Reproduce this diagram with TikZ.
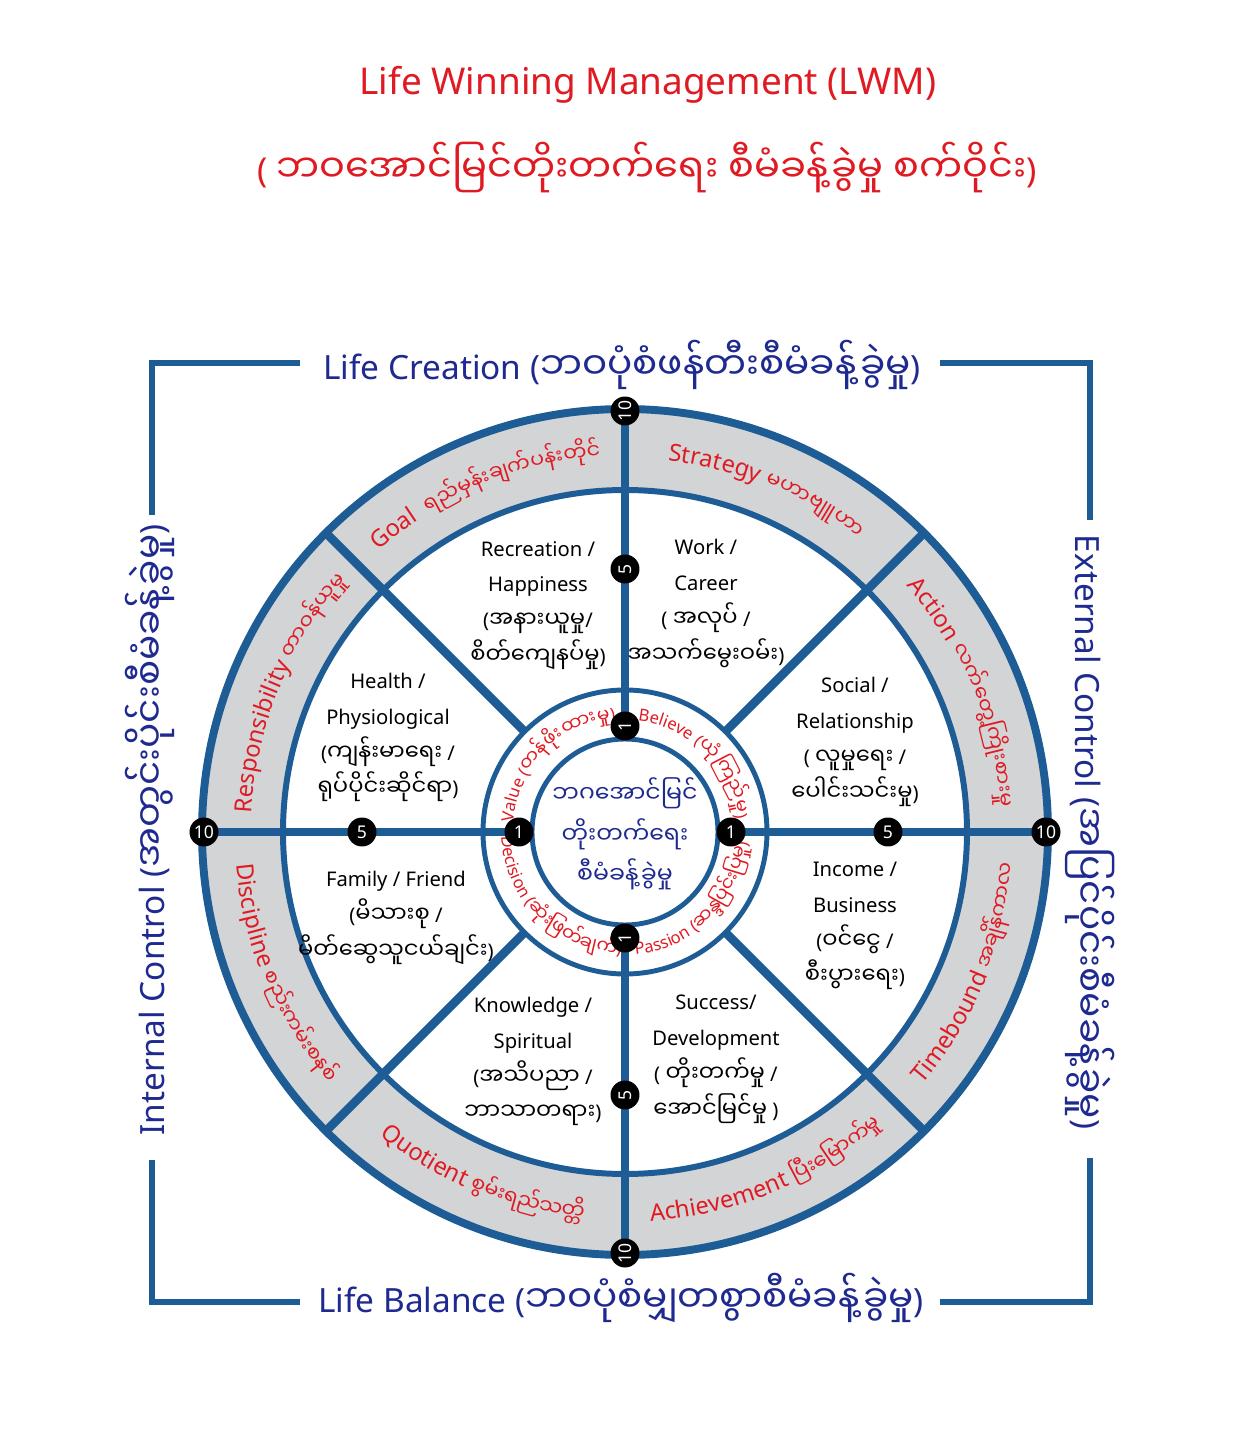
\documentclass[tikz,border=0pt]{standalone}
\usepackage{fontspec}
\setmainfont{Noto Sans}
\newfontfamily\mm[Script=Myanmar,Scale=1.12]{Noto Sans Myanmar UI}
\definecolor{lwblue}{HTML}{1E5C96}
\definecolor{ringgray}{HTML}{D3D4D6}
\definecolor{lwred}{HTML}{E01A22}
\definecolor{lwnavy}{HTML}{1F2A90}
\newcommand\my[1]{{\mm #1}}
\newcommand\segfont{\fontsize{11.5}{20.4}\selectfont\lineskiplimit=-30pt\relax}
\newcommand\corefont{\fontsize{12}{23}\selectfont\lineskiplimit=-30pt\relax}
\newcommand\ringfont{\fontsize{13.5}{14}\selectfont}
\newcommand\rb{\mm\fontsize{10.5}{12}\selectfont}
\newcommand\innerfont{\fontsize{9.5}{10}\selectfont}
\newcommand\labfont{\fontsize{19}{22}\selectfont}
\newdimen\arcW
\newcount\arcN
% measuring (done outside the picture)
\newcommand\arcmeasure[3]{% #1 name, #2 font, #3 chunks
  \global\arcW=0pt \global\arcN=0
  \def\ch##1{\setbox0\hbox{#2##1}%
    \global\advance\arcN by 1
    \expandafter\xdef\csname arcc@#1@\the\arcN\endcsname{\the\arcW}%
    \global\advance\arcW by \wd0
    \expandafter\xdef\csname arce@#1@\the\arcN\endcsname{\the\arcW}}%
  #3%
  \expandafter\xdef\csname arcw@#1\endcsname{\the\arcW}}
% placing: #1 name, #2 radius, #3 centre angle, #4 dir (1 upper, -1 lower), #5 font, #6 chunks
\newcommand\arcplace[6]{%
  \global\arcN=0
  \pgfmathsetmacro\arcK{57.29578/(#2*0.5690551)}%
  \edef\arcWv{\csname arcw@#1\endcsname}%
  \pgfmathsetmacro\arcT{\arcK*\arcWv}%
  \def\ch##1{%
    \global\advance\arcN by 1
    \edef\arcS{\csname arcc@#1@\the\arcN\endcsname}%
    \edef\arcE{\csname arce@#1@\the\arcN\endcsname}%
    \pgfmathsetmacro\arcA{#3 + #4*(\arcT/2) - #4*\arcK*0.5*(\arcS + \arcE)}%
    \pgfmathsetmacro\arcR{\arcA - #4*90}%
    \node[anchor=base, inner sep=0pt, outer sep=0pt, rotate=\arcR, text=lwred, font=#5] at (\arcA:#2) {##1};}%
  #6}
\newcommand\Lgoal{\ch{G}\ch{o}\ch{a}\ch{l}\ch{\ }\ch{\ }\ch{\rb ရည်}\ch{\rb မှန်း}\ch{\rb ချက်}\ch{\rb ပန်း}\ch{\rb တိုင်}}
\newcommand\Lstrat{\ch{S}\ch{t}\ch{r}\ch{a}\ch{t}\ch{e}\ch{g}\ch{y}\ch{\ }\ch{\rb မ}\ch{\rb ဟာ}\ch{\rb ဗျူ}\ch{\rb ဟာ}}
\newcommand\Laction{\ch{A}\ch{c}\ch{t}\ch{i}\ch{o}\ch{n}\ch{\ }\ch{\rb လက်}\ch{\rb တွေ့}\ch{\rb ကြိုး}\ch{\rb စား}\ch{\rb မှု}}
\newcommand\Lresp{\ch{R}\ch{e}\ch{s}\ch{p}\ch{o}\ch{n}\ch{s}\ch{i}\ch{b}\ch{i}\ch{l}\ch{i}\ch{t}\ch{y}\ch{\ }\ch{\rb တာ}\ch{\rb ဝန်}\ch{\rb ယူ}\ch{\rb မှု}}
\newcommand\Ldisc{\ch{D}\ch{i}\ch{s}\ch{c}\ch{i}\ch{p}\ch{l}\ch{i}\ch{n}\ch{e}\ch{\ }\ch{\rb စည်း}\ch{\rb ကမ်း}\ch{\rb စ}\ch{\rb နစ်}}
\newcommand\Lquot{\ch{Q}\ch{u}\ch{o}\ch{t}\ch{i}\ch{e}\ch{n}\ch{t}\ch{\ }\ch{\rb စွမ်း}\ch{\rb ရည်}\ch{\rb သ}\ch{\rb တ္တိ}}
\newcommand\Lachi{\ch{A}\ch{c}\ch{h}\ch{i}\ch{e}\ch{v}\ch{e}\ch{m}\ch{e}\ch{n}\ch{t}\ch{\ }\ch{\rb ပြီး}\ch{\rb မြောက်}\ch{\rb မှု}}
\newcommand\Ltime{\ch{T}\ch{i}\ch{m}\ch{e}\ch{b}\ch{o}\ch{u}\ch{n}\ch{d}\ch{\ }\ch{\rb အ}\ch{\rb ချိန်}\ch{\rb ကာ}\ch{\rb လ}}
\newcommand\Lvalue{\ch{V}\ch{a}\ch{l}\ch{u}\ch{e}\ch{\ }\ch{(}\ch{\mm တန်}\ch{\mm ဖိုး}\ch{\mm ထား}\ch{\mm မှု}\ch{)}}
\newcommand\Lbel{\ch{B}\ch{e}\ch{l}\ch{i}\ch{e}\ch{v}\ch{e}\ch{\ }\ch{(}\ch{\mm ယုံ}\ch{\mm ကြည်}\ch{\mm မှု}\ch{)}}
\newcommand\Ldec{\ch{D}\ch{e}\ch{c}\ch{i}\ch{s}\ch{i}\ch{o}\ch{n}\ch{\ }\ch{(}\ch{\mm ဆုံး}\ch{\mm ဖြတ်}\ch{\mm ချက်}\ch{)}}
\newcommand\Lpass{\ch{P}\ch{a}\ch{s}\ch{s}\ch{i}\ch{o}\ch{n}\ch{\ }\ch{(}\ch{\mm ဆန္ဒ}\ch{\mm ပြင်း}\ch{\mm ပြ}\ch{\mm မှု}\ch{)}}
\AtBeginDocument{%
  \arcmeasure{goal}{\ringfont}{\Lgoal}%
  \arcmeasure{strat}{\ringfont}{\Lstrat}%
  \arcmeasure{action}{\ringfont}{\Laction}%
  \arcmeasure{resp}{\ringfont}{\Lresp}%
  \arcmeasure{disc}{\ringfont}{\Ldisc}%
  \arcmeasure{quot}{\ringfont}{\Lquot}%
  \arcmeasure{achi}{\ringfont}{\Lachi}%
  \arcmeasure{time}{\ringfont}{\Ltime}%
  \arcmeasure{value}{\innerfont}{\Lvalue}%
  \arcmeasure{bel}{\innerfont}{\Lbel}%
  \arcmeasure{dec}{\innerfont}{\Ldec}%
  \arcmeasure{pass}{\innerfont}{\Lpass}%
}
\begin{document}
\begin{tikzpicture}[x=0.02cm,y=0.02cm,
  segtext/.style={align=center, font=\segfont, text=black, inner sep=0pt},
  numdot/.style={circle, fill=black, inner sep=0pt, minimum size=16.5pt, text=white, font=\bfseries\fontsize{10}{10}\selectfont},
  spoke/.style={lwblue, line width=5pt},
  navylab/.style={text=lwnavy, font=\labfont, inner sep=0pt},
]
\fill[white] (-625,-608) rectangle (625,832);
\useasboundingbox (-625,-608) rectangle (625,832);

% titles
\node[text=lwred, font=\fontsize{21}{24}\selectfont] (title1) at (23,747) {Life Winning Management (LWM)};
\node[text=lwred, font=\fontsize{19.5}{24}\selectfont] (title2) at (22,664) {( \my{ဘဝအောင်မြင်တိုးတက်ရေး စီမံခန့်ခွဲမှု စက်ဝိုင်း})};

% frame
\draw[lwblue, line width=3.4pt] (-325,469) -- (-473,469) -- (-473,317);
\draw[lwblue, line width=3.4pt] (315,469) -- (465,469) -- (465,312);
\draw[lwblue, line width=3.4pt] (-473,-328) -- (-473,-470) -- (-325,-470);
\draw[lwblue, line width=3.4pt] (465,-326) -- (465,-470) -- (315,-470);

\node[navylab] (creation) at (-3,467) {Life Creation (\my{ဘဝပုံစံဖန်တီးစီမံခန့်ခွဲမှု})};
\node[navylab] (balance) at (-4,-466) {Life Balance (\my{ဘဝပုံစံမျှတစွာစီမံခန့်ခွဲမှု})};
\node[navylab, rotate=90] (internal) at (-475,2) {Internal Control (\my{အတွင်းပိုင်းစီမံခန့်ခွဲမှု})};
\node[navylab, rotate=-90] (external) at (465,0) {External Control (\my{အပြင်ပိုင်းစီမံခန့်ခွဲမှု})};

% gray ring
\fill[ringgray, even odd rule] (0,0) circle[radius=423] (0,0) circle[radius=342];

% spokes
\foreach \a in {0,90,180,270} \draw[spoke] (\a:106) -- (\a:423);
\foreach \a in {45,135,225,315} \draw[spoke] (\a:142) -- (\a:423);

% circles
\draw[lwblue, line width=4.5pt] (0,0) circle[radius=423];
\draw[lwblue, line width=3.4pt] (0,0) circle[radius=342];
\draw[lwblue, line width=2.8pt] (0,0) circle[radius=142];
\draw[lwblue, line width=2.8pt] (0,0) circle[radius=93];

% outer ring labels
\arcplace{goal}{374}{112.5}{1}{\ringfont}{\Lgoal}
\arcplace{strat}{374}{67.5}{1}{\ringfont}{\Lstrat}
\arcplace{action}{374}{22.5}{1}{\ringfont}{\Laction}
\arcplace{resp}{374}{157.5}{1}{\ringfont}{\Lresp}
\arcplace{disc}{390}{202.5}{-1}{\ringfont}{\Ldisc}
\arcplace{quot}{390}{247.5}{-1}{\ringfont}{\Lquot}
\arcplace{achi}{390}{292.5}{-1}{\ringfont}{\Lachi}
\arcplace{time}{390}{337.5}{-1}{\ringfont}{\Ltime}

% inner ring labels
\arcplace{value}{112}{135}{1}{\innerfont}{\Lvalue}
\arcplace{bel}{112}{45}{1}{\innerfont}{\Lbel}
\arcplace{dec}{123}{225}{-1}{\innerfont}{\Ldec}
\arcplace{pass}{123}{315}{-1}{\innerfont}{\Lpass}

% center
\node[text=lwnavy, align=center, font=\corefont] (core) at (0,-2) {\my{ဘဂအောင်မြင်}\\\my{တိုးတက်ရေး}\\\my{စီမံခန့်ခွဲမှု}};

% segment texts
\node[segtext] (recreation) at (-87,226.5) {Recreation /\\Happiness\\(\my{အနားယူမှု}/\\\my{စိတ်ကျေနပ်မှု})};
\node[segtext] (work) at (81,228.5) {Work /\\Career\\( \my{အလုပ်} /\\\my{အသက်မွေးဝမ်း})};
\node[segtext] (health) at (-237,94.5) {Health /\\Physiological\\(\my{ကျန်းမာရေး} /\\\my{ရုပ်ပိုင်းဆိုင်ရာ})};
\node[segtext] (social) at (230,90) {Social /\\Relationship\\( \my{လူမှုရေး} /\\\my{ပေါင်းသင်းမှု})};
\node[segtext] (family) at (-229,-86) {Family / Friend\\(\my{မိသားစု} /\\\my{မိတ်ဆွေသူငယ်ချင်း})};
\node[segtext] (income) at (230,-94) {Income /\\Business\\(\my{ဝင်ငွေ} /\\\my{စီးပွားရေး})};
\node[segtext] (knowledge) at (-92,-229.5) {Knowledge /\\Spiritual\\(\my{အသိပညာ} /\\\my{ဘာသာတရား})};
\node[segtext] (success) at (91,-227) {Success/\\Development\\( \my{တိုးတက်မှု} /\\\my{အောင်မြင်မှု} )};

% markers
\node[numdot, rotate=90] (n1t) at (90:106) {1};
\node[numdot, rotate=90] (n1b) at (270:106) {1};
\node[numdot] (n1l) at (180:106) {1};
\node[numdot] (n1r) at (0:106) {1};
\node[numdot, rotate=90] (n5t) at (90:263) {5};
\node[numdot, rotate=90] (n5b) at (270:263) {5};
\node[numdot] (n5l) at (180:263) {5};
\node[numdot] (n5r) at (0:263) {5};
\node[numdot, rotate=90] (n10t) at (90:421) {10};
\node[numdot, rotate=90] (n10b) at (270:421) {10};
\node[numdot] (n10l) at (180:421) {10};
\node[numdot] (n10r) at (0:421) {10};
\end{tikzpicture}
\end{document}
